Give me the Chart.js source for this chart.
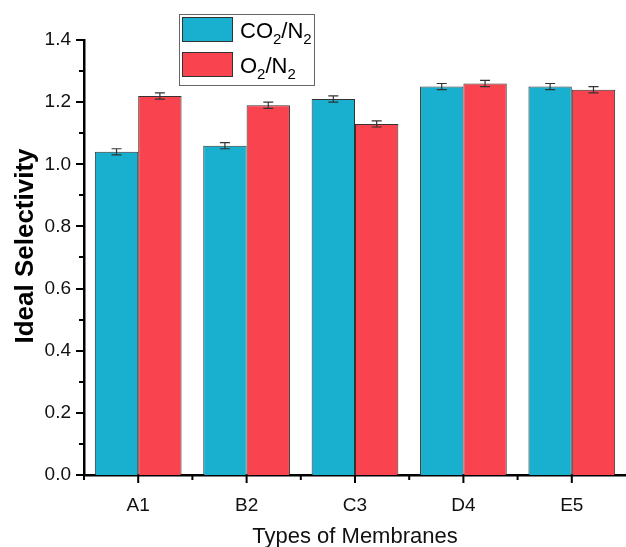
<!DOCTYPE html>
<html>
<head>
<meta charset="utf-8">
<script src="https://cdn.jsdelivr.net/npm/chart.js@4/dist/chart.umd.min.js"></script>
<style>
  html, body { margin: 0; padding: 0; background: #fff; }
  #wrap { width: 626px; height: 547px; position: relative; }
</style>
</head>
<body>
<div id="wrap"><canvas id="c" width="626" height="547"></canvas></div>
<script>
// Membrane types and measured ideal selectivities
const categories = ['A1', 'B2', 'C3', 'D4', 'E5'];
const co2n2 = [1.04, 1.06, 1.21, 1.25, 1.25];
const o2n2 = [1.22, 1.19, 1.13, 1.26, 1.24];
const co2n2Err = [0.01, 0.01, 0.01, 0.01, 0.01];
const o2n2Err = [0.01, 0.01, 0.01, 0.01, 0.01];
const yMin = 0, yMax = 1.4, yMinorStep = 0.1;
const xTitle = 'Types of Membranes';
const yTitle = 'Ideal Selectivity';

const CYAN = '#19AFCF';
const RED = '#F9434F';
const EDGE = '#333333';
const FONT = '"Liberation Sans", Arial, Helvetica, sans-serif';

// Error bars on top of each bar
const errorBars = {
  id: 'errorBars',
  afterDatasetsDraw(chart) {
    const ctx = chart.ctx;
    const y = chart.scales.y;
    const errs = [co2n2Err, o2n2Err];
    ctx.save();
    ctx.strokeStyle = '#333';
    ctx.lineWidth = 1.2;
    chart.data.datasets.forEach((ds, di) => {
      chart.getDatasetMeta(di).data.forEach((bar, i) => {
        const v = ds.data[i], e = errs[di][i];
        const x = bar.x;
        const yt = y.getPixelForValue(v + e), yb = y.getPixelForValue(v - e);
        ctx.beginPath();
        ctx.moveTo(x, yt); ctx.lineTo(x, yb);
        ctx.moveTo(x - 5, yt); ctx.lineTo(x + 5, yt);
        ctx.moveTo(x - 5, yb); ctx.lineTo(x + 5, yb);
        ctx.stroke();
      });
    });
    ctx.restore();
  }
};

// Major/minor tick marks on both axes, plus the axis titles
const axisDecor = {
  id: 'axisDecor',
  afterDraw(chart) {
    const ctx = chart.ctx;
    const a = chart.chartArea;
    const y = chart.scales.y, x = chart.scales.x;
    ctx.save();
    ctx.strokeStyle = '#000';
    ctx.lineWidth = 2;
    const n = Math.round((yMax - yMin) / yMinorStep);
    for (let k = 0; k <= n; k++) {
      const v = yMin + k * yMinorStep;
      const py = Math.round(y.getPixelForValue(v));
      const len = k % 2 === 0 ? 8 : 5;
      ctx.beginPath();
      ctx.moveTo(a.left - len, py); ctx.lineTo(a.left, py);
      ctx.stroke();
    }
    for (let i = 0; i < categories.length; i++) {
      const px = x.getPixelForValue(i);
      ctx.beginPath();
      ctx.moveTo(px, a.bottom); ctx.lineTo(px, a.bottom + 8);
      ctx.stroke();
      const mx = x.getPixelForValue(i - 0.5);
      ctx.beginPath();
      ctx.moveTo(mx, a.bottom); ctx.lineTo(mx, a.bottom + 5);
      ctx.stroke();
    }

    ctx.fillStyle = '#111';
    ctx.textAlign = 'center';
    ctx.textBaseline = 'alphabetic';
    ctx.font = '22px ' + FONT;
    ctx.fillText(xTitle, (a.left + a.right) / 2, 543);

    ctx.translate(33, 246);
    ctx.rotate(-Math.PI / 2);
    ctx.fillStyle = '#000';
    ctx.font = 'bold 26px ' + FONT;
    ctx.fillText(yTitle, 0, 0);
    ctx.restore();
  }
};

// Legend box with subscripted gas formulas
const chemLegend = {
  id: 'chemLegend',
  afterDraw(chart) {
    const ctx = chart.ctx;
    ctx.save();
    ctx.strokeStyle = '#666';
    ctx.lineWidth = 1;
    ctx.strokeRect(179.5, 14.5, 135, 71);
    const items = [
      { color: CYAN, parts: [['CO', 0], ['2', 1], ['/N', 0], ['2', 1]], top: 17 },
      { color: RED, parts: [['O', 0], ['2', 1], ['/N', 0], ['2', 1]], top: 52 }
    ];
    items.forEach(it => {
      ctx.fillStyle = it.color;
      ctx.fillRect(182, it.top, 51, 25);
      ctx.strokeStyle = EDGE;
      ctx.lineWidth = 1;
      ctx.strokeRect(182.5, it.top + 0.5, 50, 24);
      let tx = 240;
      const base = it.top + 21;
      ctx.fillStyle = '#000';
      ctx.textBaseline = 'alphabetic';
      it.parts.forEach(([t, sub]) => {
        ctx.font = (sub ? '15px ' : '22px ') + FONT;
        ctx.fillText(t, tx, sub ? base + 6 : base);
        tx += ctx.measureText(t).width;
      });
    });
    ctx.restore();
  }
};

new Chart(document.getElementById('c'), {
  type: 'bar',
  data: {
    labels: categories,
    datasets: [
      { label: 'CO2/N2', data: co2n2, backgroundColor: CYAN, borderColor: EDGE, borderWidth: 1, borderSkipped: 'start' },
      { label: 'O2/N2', data: o2n2, backgroundColor: RED, borderColor: EDGE, borderWidth: 1, borderSkipped: 'start' }
    ]
  },
  options: {
    responsive: false,
    animation: false,
    devicePixelRatio: 1,
    layout: { padding: { top: 40, right: 0, left: 0, bottom: 0 } },
    datasets: { bar: { categoryPercentage: 0.8, barPercentage: 1.0 } },
    plugins: { legend: { display: false }, tooltip: { enabled: false } },
    scales: {
      x: {
        offset: true,
        grid: { display: false, drawTicks: false },
        border: { display: true, color: '#000', width: 2.5 },
        ticks: { color: '#111', font: { family: FONT, size: 19 }, padding: 19 },
        afterFit(s) { s.height = 72; }
      },
      y: {
        min: yMin, max: yMax,
        grid: { display: false, drawTicks: false },
        border: { display: true, color: '#000', width: 2.5 },
        ticks: {
          stepSize: yMinorStep,
          color: '#111',
          font: { family: FONT, size: 19 },
          padding: 13,
          callback: v => (Math.round(v * 10) % 2 === 0 ? v.toFixed(1) : '')
        },
        afterFit(s) { s.width = 84; }
      }
    }
  },
  plugins: [errorBars, axisDecor, chemLegend]
});
</script>
</body>
</html>
